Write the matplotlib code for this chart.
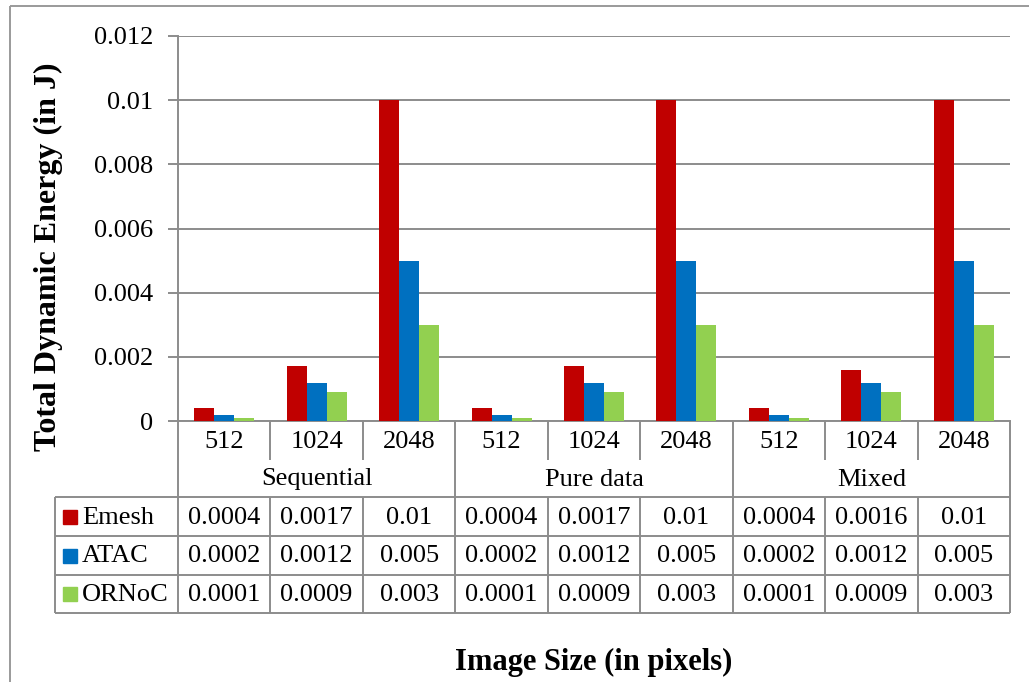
import numpy as np
import matplotlib
matplotlib.use("Agg")
import matplotlib.pyplot as plt
from matplotlib.patches import Rectangle

plt.rcParams['font.family'] = ['Liberation Serif', 'DejaVu Serif']

groups = ['Sequential', 'Pure data', 'Mixed']
sizes = ['512', '1024', '2048']
series = ['Emesh', 'ATAC', 'ORNoC']
emesh = [0.0004, 0.0017, 0.01, 0.0004, 0.0017, 0.01, 0.0004, 0.0016, 0.01]
atac = [0.0002, 0.0012, 0.005, 0.0002, 0.0012, 0.005, 0.0002, 0.0012, 0.005]
ornoc = [0.0001, 0.0009, 0.003, 0.0001, 0.0009, 0.003, 0.0001, 0.0009, 0.003]
yticks = [0, 0.002, 0.004, 0.006, 0.008, 0.01, 0.012]

colors = ['#C00000', '#0070C0', '#92D050']
grid_c = '#8c8c8c'
W, H = 1029, 682
fs = 19

fig = plt.figure(figsize=(W / 100, H / 100), dpi=100)
fig.patch.set_facecolor('white')

# plot area in pixels
L, R, T, B = 178, 1010, 36, 421
ax = fig.add_axes([L / W, 1 - B / H, (R - L) / W, (B - T) / H])

ncol = len(emesh)
x = np.arange(ncol) + 0.5
bw = 0.216
for k, vals in enumerate([emesh, atac, ornoc]):
    ax.bar(x + (k - 1) * bw, vals, bw, color=colors[k], label=series[k], zorder=3)

ax.set_xlim(0, ncol)
ax.set_ylim(0, 0.012)
ax.set_yticks(yticks)
ax.set_yticklabels([f"{v:g}" for v in yticks], fontsize=fs)
ax.set_xticks([])
ax.yaxis.grid(True, color=grid_c, lw=1.4, zorder=0)
for s in ['top', 'right']:
    ax.spines[s].set_visible(False)
ax.spines['left'].set_color(grid_c)
ax.spines['left'].set_linewidth(1.4)
ax.spines['bottom'].set_color(grid_c)
ax.spines['bottom'].set_linewidth(1.4)
ax.tick_params(axis='y', length=7, width=1.4, color=grid_c, pad=11)

# overlay in pixel coordinates for the data table and outer frame
ov = fig.add_axes([0, 0, 1, 1], facecolor='none')
ov.set_xlim(0, W)
ov.set_ylim(H, 0)
ov.axis('off')

def line(x0, y0, x1, y1, c=grid_c, lw=1.4):
    ov.plot([x0, x1], [y0, y1], color=c, lw=lw, solid_capstyle='butt')

# outer frame
line(10, 6, W, 6, c='#9a9a9a', lw=1.4)
line(10, 6, 10, H, c='#9a9a9a', lw=1.4)

cw = (R - L) / ncol
edges = [L + i * cw for i in range(ncol + 1)]
r_size = (B, 460)
r_grp = (460, 497)
rows = [497, 536, 575, 613]
leg_l = 55

# vertical lines
for i, ex in enumerate(edges):
    if i % 3 == 0:
        line(ex, B, ex, rows[-1])
    else:
        line(ex, B, ex, r_size[1])
        line(ex, rows[0], ex, rows[-1])
line(leg_l, rows[0], leg_l, rows[-1])
for ry in rows:
    line(leg_l, ry, R, ry)

# size labels and group labels
for i in range(ncol):
    ov.text((edges[i] + edges[i + 1]) / 2, (r_size[0] + r_size[1]) / 2 + 1,
            sizes[i % 3], ha='center', va='center', fontsize=fs)
for g, name in enumerate(groups):
    ov.text((edges[3 * g] + edges[3 * g + 3]) / 2, (r_grp[0] + r_grp[1]) / 2 + 1,
            name, ha='center', va='center', fontsize=fs)

# data rows
for k, vals in enumerate([emesh, atac, ornoc]):
    yc = (rows[k] + rows[k + 1]) / 2 + 1
    ov.add_patch(Rectangle((63, yc - 8), 14, 14, color=colors[k]))
    ov.text(82, yc, series[k], ha='left', va='center', fontsize=fs)
    for i, v in enumerate(vals):
        ov.text((edges[i] + edges[i + 1]) / 2, yc, f"{v:g}",
                ha='center', va='center', fontsize=fs)

ov.text(48, 257, 'Total Dynamic Energy (in J)', ha='center', va='center',
        rotation=90, fontsize=23, fontweight='bold')
ov.text((L + R) / 2, 662, 'Image Size (in pixels)', ha='center', va='center',
        fontsize=22, fontweight='bold')

fig.savefig('out.png', dpi=100)
